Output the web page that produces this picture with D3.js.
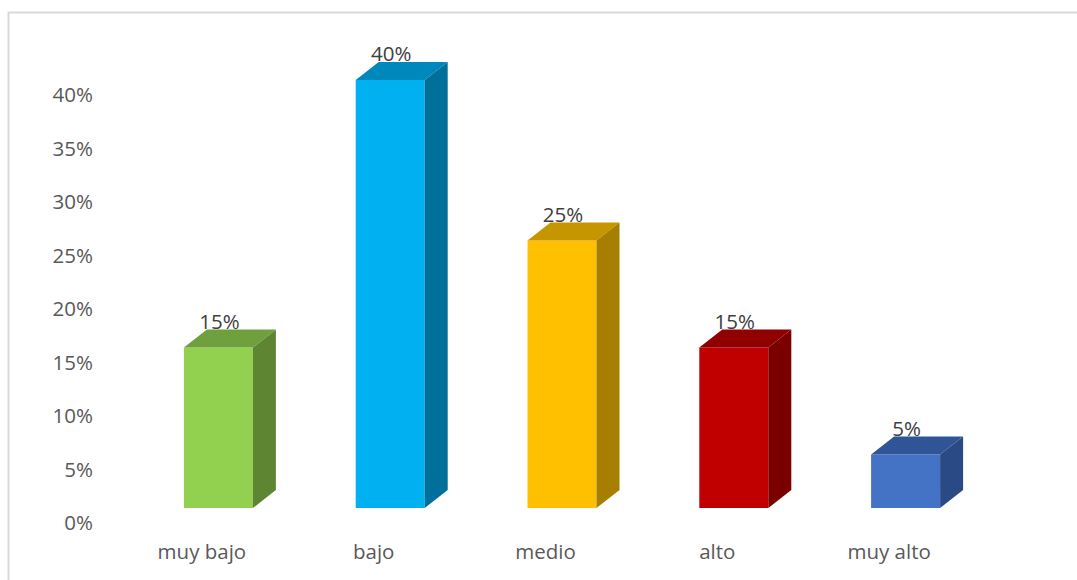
<!DOCTYPE html>
<html>
<head>
<meta charset="utf-8">
<script src="https://cdn.jsdelivr.net/npm/d3@7"></script>
<style>
body { margin: 0; background: #fff; }
svg { display: block; font-family: "Open Sans", sans-serif; }
</style>
</head>
<body>
<svg width="1077" height="580"></svg>
<script>
// data
var categories = ["muy bajo", "bajo", "medio", "alto", "muy alto"];
var values = [0.15, 0.40, 0.25, 0.15, 0.05];
var frontColors = ["#92D050", "#00B0F0", "#FFC000", "#C00000", "#4472C4"];
var topColors = ["#70A03E", "#0088BC", "#C69600", "#900000", "#2F5597"];
var sideColors = ["#5E8632", "#00709B", "#A67E00", "#7A0000", "#294A85"];
var tickValues = [0, 0.05, 0.10, 0.15, 0.20, 0.25, 0.30, 0.35, 0.40];

var svg = d3.select("svg"),
    width = +svg.attr("width"),
    height = +svg.attr("height");

// chart frame
svg.append("rect")
  .attr("x", 8.5).attr("y", 12.5)
  .attr("width", width).attr("height", height)
  .attr("fill", "none")
  .attr("stroke", "#d9d9d9")
  .attr("stroke-width", 2);

var y = d3.scaleLinear().domain([0, 0.40]).range([523, 95]);
var x = d3.scaleBand().domain(categories).range([117, 976]);

var floor = 15;     // front face lifted above the axis baseline
var depthX = 23, depthY = 18;
var barW = 69;
var fontSize = "20.5px";

// y axis
var yAxis = d3.axisLeft(y)
  .tickValues(tickValues)
  .tickFormat(d3.format(".0%"))
  .tickSize(0)
  .tickPadding(0);

var gy = svg.append("g").attr("transform", "translate(93,0)").call(yAxis);
gy.select(".domain").remove();
gy.selectAll("text")
  .attr("fill", "#595959")
  .style("font-size", fontSize)
  .style("font-family", "'Open Sans', sans-serif");

// x axis labels
var xAxis = d3.axisBottom(x).tickSize(0).tickPadding(0);
var gx = svg.append("g").attr("transform", "translate(-1,0)").call(xAxis);
gx.select(".domain").remove();
gx.selectAll("text")
  .attr("y", 559)
  .attr("dy", null)
  .attr("fill", "#595959")
  .style("font-size", fontSize)
  .style("font-family", "'Open Sans', sans-serif");

// bars
var bars = svg.selectAll(".bar")
  .data(values)
  .enter().append("g")
  .attr("class", "bar");

function frontLeft(d, i) { return x(categories[i]) + x.bandwidth() / 2 - 19; }
function frontTop(d) { return y(d) - floor; }
var base = y(0) - floor;

bars.append("rect")
  .attr("x", frontLeft)
  .attr("y", frontTop)
  .attr("width", barW)
  .attr("height", function(d) { return base - frontTop(d); })
  .attr("fill", function(d, i) { return frontColors[i]; });

bars.append("path")
  .attr("d", function(d, i) {
    var l = frontLeft(d, i), t = frontTop(d);
    return "M" + l + "," + t +
      "L" + (l + depthX) + "," + (t - depthY) +
      "L" + (l + barW + depthX) + "," + (t - depthY) +
      "L" + (l + barW) + "," + t + "Z";
  })
  .attr("fill", function(d, i) { return topColors[i]; });

bars.append("path")
  .attr("d", function(d, i) {
    var r = frontLeft(d, i) + barW, t = frontTop(d);
    return "M" + r + "," + t +
      "L" + (r + depthX) + "," + (t - depthY) +
      "L" + (r + depthX) + "," + (base - depthY) +
      "L" + r + "," + base + "Z";
  })
  .attr("fill", function(d, i) { return sideColors[i]; });

// value labels
bars.append("text")
  .attr("x", function(d, i) { return frontLeft(d, i) + barW / 2 + 1; })
  .attr("y", function(d) { return frontTop(d) - depthY - 1; })
  .attr("text-anchor", "middle")
  .attr("fill", "#404040")
  .style("font-size", fontSize)
  .text(function(d) { return d3.format(".0%")(d); });
</script>
</body>
</html>
